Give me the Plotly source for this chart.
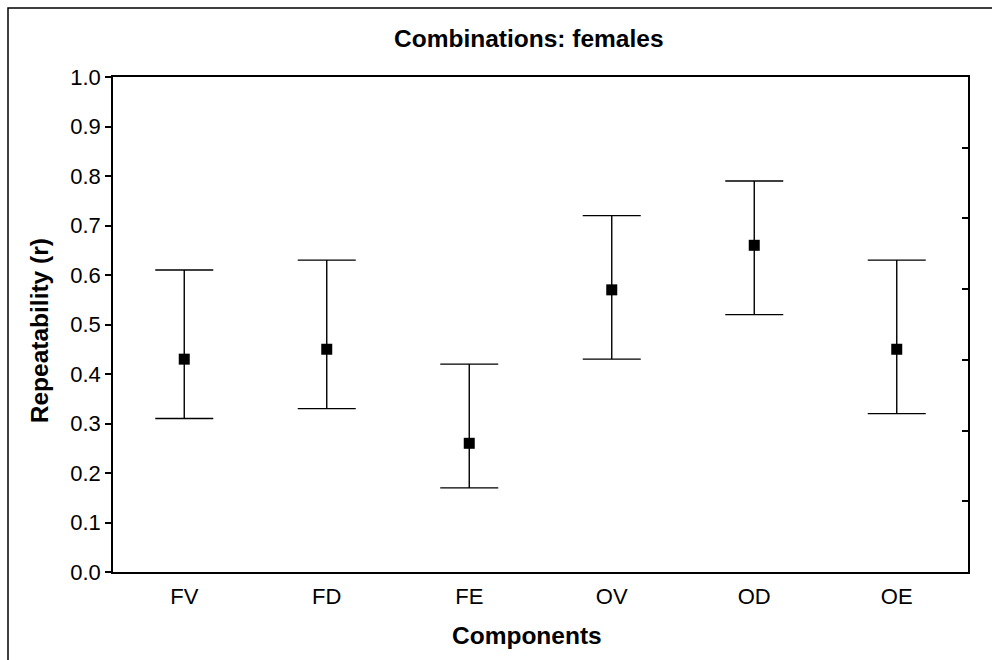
import plotly.graph_objects as go

components = ["FV", "FD", "FE", "OV", "OD", "OE"]
repeatability = [0.43, 0.45, 0.26, 0.57, 0.66, 0.45]
ci_lower = [0.31, 0.33, 0.17, 0.43, 0.52, 0.32]
ci_upper = [0.61, 0.63, 0.42, 0.72, 0.79, 0.63]
y_ticks = [0.0, 0.1, 0.2, 0.3, 0.4, 0.5, 0.6, 0.7, 0.8, 0.9, 1.0]
y_tick_labels = ["0.0", "0.1", "0.2", "0.3", "0.4", "0.5", "0.6", "0.7", "0.8", "0.9", "1.0"]

err_plus = [u - r for u, r in zip(ci_upper, repeatability)]
err_minus = [r - l for r, l in zip(repeatability, ci_lower)]

FONT = "Liberation Sans, Arial, sans-serif"

fig = go.Figure()
fig.add_trace(go.Scatter(
    x=components, y=repeatability, mode="markers",
    marker=dict(symbol="square", size=11, color="black"),
    error_y=dict(type="data", symmetric=False, array=err_plus, arrayminus=err_minus,
                 color="black", thickness=1.4, width=29),
    showlegend=False,
))
# invisible trace to activate right-side axis
fig.add_trace(go.Scatter(x=components, y=[None] * len(components), yaxis="y2",
                         showlegend=False, hoverinfo="skip"))

fig.update_layout(
    width=992, height=660,
    margin=dict(l=113, r=24, t=77, b=88),
    plot_bgcolor="white", paper_bgcolor="white",
    font=dict(family=FONT, size=22, color="black"),
    xaxis=dict(type="category", categoryorder="array", categoryarray=components,
               range=[-0.5, 5.5], showline=True, linecolor="black", linewidth=1.5,
               mirror=True, ticks="", showgrid=False, zeroline=False,
               ticklabelstandoff=4, tickfont=dict(size=22)),
    yaxis=dict(range=[0, 1], tickvals=y_ticks, ticktext=y_tick_labels,
               showline=True, linecolor="black", linewidth=1.5,
               ticks="outside", ticklen=6, tickwidth=1.5, tickcolor="black",
               showgrid=False, zeroline=False, tickfont=dict(size=22)),
    yaxis2=dict(overlaying="y", side="right", range=[0, 7], tickvals=[1, 2, 3, 4, 5, 6],
                showticklabels=False, ticks="inside", ticklen=6, tickwidth=1.5,
                tickcolor="black", showline=True, linecolor="black", linewidth=1.5,
                showgrid=False, zeroline=False),
    annotations=[
        dict(text="<b>Combinations: females</b>", xref="paper", yref="paper",
             x=0.486, y=1.077, xanchor="center", yanchor="middle", showarrow=False,
             font=dict(size=24.5)),
        dict(text="<b>Components</b>", xref="paper", yref="paper",
             x=0.484, y=-0.128, xanchor="center", yanchor="middle", showarrow=False,
             font=dict(size=24.5)),
        dict(text="<b>Repeatability (r)</b>", xref="paper", yref="paper",
             x=-0.085, y=0.487, xanchor="center", yanchor="middle", showarrow=False,
             textangle=-90, font=dict(size=24.5)),
    ],
    shapes=[
        dict(type="rect", xref="paper", yref="paper",
             x0=(8 - 113) / 855, y0=-0.4, x1=1.2, y1=(572 - 8) / 495,
             line=dict(color="black", width=1.5), fillcolor="rgba(0,0,0,0)", layer="above"),
    ],
)

fig.write_html("out.html")
